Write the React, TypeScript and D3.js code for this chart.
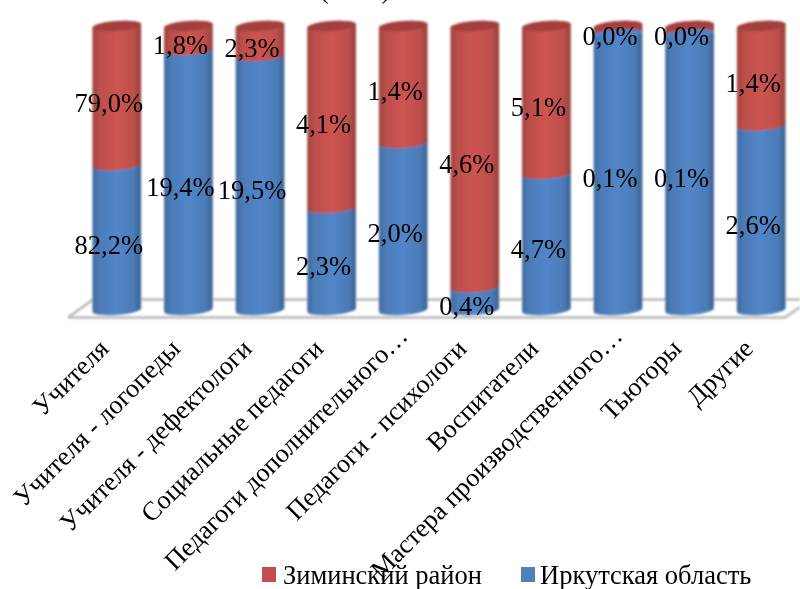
import React from 'react';
import * as d3 from 'd3';

const categories = ['Учителя', 'Учителя - логопеды', 'Учителя - дефектологи', 'Социальные педагоги', 'Педагоги дополнительного…', 'Педагоги - психологи', 'Воспитатели', 'Мастера производственного…', 'Тьюторы', 'Другие'];
const irkutsk = [82.2, 19.4, 19.5, 2.3, 2.0, 0.4, 4.7, 0.1, 0.1, 2.6];
const zima = [79.0, 1.8, 2.3, 4.1, 1.4, 4.6, 5.1, 0.002, 0.002, 1.4];
const seriesNames = ['Зиминский район', 'Иркутская область'];
const rows = categories.map((c, i) => ({ c, irkutsk: irkutsk[i], zima: zima[i] }));

const FONT = '"Liberation Serif", serif';
const W = 800, H = 589;
const x = d3.scaleBand<string>().domain(categories).range([81, 797]).paddingInner(0.32).paddingOuter(0.16);
const y = d3.scaleLinear().domain([0, 1]).range([310, 26]);
const stacked = d3.stack<any>().keys(['irkutsk', 'zima']).offset(d3.stackOffsetExpand)(rows);
const fmt = (v: number) => v.toFixed(1).replace('.', ',') + '%';

const RY = 5;
const SKEW = -4;

function band(x0: number, w: number, top: number, bot: number) {
  const rx = w / 2;
  const xr = x0 + w;
  return `M${x0},${top} A${rx},${RY} 0 0 1 ${xr},${top} L${xr},${bot} A${rx},${RY} 0 0 1 ${x0},${bot} Z`;
}
const tilt = (cx: number) => `translate(${cx},0) skewY(${SKEW}) translate(${-cx},0)`;

export default function App() {
  const w = x.bandwidth();
  return (
    <svg width={W} height={H} style={{ position: 'absolute', left: 0, top: 0, background: '#fff' }} fontFamily={FONT}>
      <defs>
        <linearGradient id="blue" x1="0" x2="1" y1="0" y2="0">
          <stop offset="0" stopColor="#3f6a9e" />
          <stop offset="0.14" stopColor="#4c7cb8" />
          <stop offset="0.5" stopColor="#5286c8" />
          <stop offset="0.85" stopColor="#4c7cb8" />
          <stop offset="1" stopColor="#3a618f" />
        </linearGradient>
        <linearGradient id="red" x1="0" x2="1" y1="0" y2="0">
          <stop offset="0" stopColor="#9c433d" />
          <stop offset="0.14" stopColor="#bd4f4b" />
          <stop offset="0.5" stopColor="#cd5451" />
          <stop offset="0.85" stopColor="#bd4f4b" />
          <stop offset="1" stopColor="#933f3a" />
        </linearGradient>
        <filter id="soft" x="-10%" y="-10%" width="120%" height="120%">
          <feGaussianBlur stdDeviation="0.8" />
        </filter>
        <filter id="softText" x="-10%" y="-10%" width="120%" height="120%">
          <feGaussianBlur stdDeviation="0.35" />
        </filter>
      </defs>

      <g filter="url(#soft)">
        <path d="M68,317.5 L93,299.5 L800,299.5 M68,317.5 L785,317.5 L800,307" fill="none" stroke="#b8b8b8" strokeWidth={2.6} />
        {stacked.map((s) => (
          <g key={s.key}>
            {s.map((d, i) => {
              const x0 = x(categories[i]) as number;
              return <path key={i} transform={tilt(x0 + w / 2)} d={band(x0, w, y(d[1]), y(d[0]))} fill={s.key === 'zima' ? 'url(#red)' : 'url(#blue)'} />;
            })}
          </g>
        ))}
        {categories.map((c) => {
          const x0 = x(c) as number;
          const cx = x0 + w / 2;
          return <ellipse key={c} cx={cx} cy={y(1)} rx={w / 2} ry={RY} transform={tilt(cx)} fill="#a33f3c" />;
        })}
        {categories.map((c, i) => {
          const blueTop = y(stacked[0][i][1]);
          if (blueTop - y(1) > 8) return null;
          const cx = (x(c) as number) + w / 2;
          return <ellipse key={c} cx={cx} cy={blueTop + 2} rx={w / 2} ry={RY - 1} transform={tilt(cx)} fill="#5084c4" />;
        })}
      </g>

      <g filter="url(#softText)" fill="#000">
        <g fontSize={26.5} textAnchor="middle">
          {stacked.map((s) =>
            s.map((d, i) => {
              const cx = (x(categories[i]) as number) + w / 2 - 8;
              const cy = (y(d[0]) + y(d[1])) / 2 + 16;
              const value = s.key === 'zima' ? zima[i] : irkutsk[i];
              return <text key={s.key + i} x={cx} y={cy}>{fmt(value)}</text>;
            })
          )}
        </g>
        <g fontSize={26.4} textAnchor="end">
          {categories.map((c) => {
            const cx = (x(c) as number) + w / 2;
            const along = c.endsWith('…') ? 18 : 0;
            return <text key={c} transform={`translate(${cx - 11 + along * 0.707},${346 - along * 0.707}) rotate(-45)`} x={0} y={6}>{c}</text>;
          })}
        </g>
        <text x={355} y={-2} fontSize={26.5} textAnchor="middle">(2022)</text>
        <g fontSize={26.5}>
          <rect x={262} y={567} width={14} height={15} fill="#c0504d" stroke="none" />
          <text x={283} y={584}>{seriesNames[0]}</text>
          <rect x={521} y={567} width={14} height={15} fill="#4f81bd" stroke="none" />
          <text x={540} y={584}>{seriesNames[1]}</text>
        </g>
      </g>
    </svg>
  );
}
